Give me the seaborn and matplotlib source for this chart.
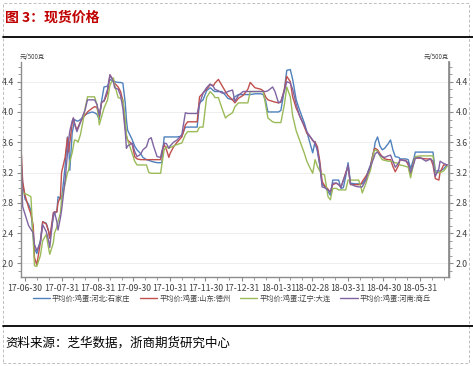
import pandas as pd
import seaborn as sns
import matplotlib.pyplot as plt
import matplotlib.dates as mdates
from matplotlib.ticker import MultipleLocator, FormatStrFormatter
from matplotlib.lines import Line2D
from matplotlib.patches import Rectangle

dates = ["2017-06-27","2017-06-28","2017-06-30","2017-07-03","2017-07-05","2017-07-07","2017-07-08","2017-07-10","2017-07-13","2017-07-15",
         "2017-07-18","2017-07-20","2017-07-21","2017-07-24","2017-07-25","2017-07-27","2017-07-28","2017-07-30","2017-07-31","2017-08-03",
         "2017-08-05","2017-08-06","2017-08-07","2017-08-09","2017-08-10","2017-08-11","2017-08-13","2017-08-14","2017-08-16","2017-08-18",
         "2017-08-20","2017-08-22","2017-08-26","2017-08-28","2017-08-30","2017-09-01","2017-09-03","2017-09-05","2017-09-08","2017-09-10",
         "2017-09-13","2017-09-14","2017-09-17","2017-09-19","2017-09-21","2017-09-23","2017-09-24","2017-09-25","2017-09-29","2017-10-01",
         "2017-10-03","2017-10-06","2017-10-08","2017-10-11","2017-10-13","2017-10-15","2017-10-17","2017-10-20","2017-10-23","2017-10-24",
         "2017-10-26","2017-10-28","2017-10-30","2017-10-31","2017-11-03","2017-11-06","2017-11-10","2017-11-13","2017-11-15","2017-11-19",
         "2017-11-23","2017-11-25","2017-11-28","2017-12-01","2017-12-04","2017-12-07","2017-12-08","2017-12-11","2017-12-14","2017-12-17",
         "2017-12-19","2017-12-23","2017-12-25","2017-12-28","2018-01-01","2018-01-05","2018-01-07","2018-01-11","2018-01-16","2018-01-18",
         "2018-01-20","2018-01-22","2018-01-26","2018-01-28","2018-01-31","2018-02-02","2018-02-05","2018-02-07","2018-02-10","2018-02-12",
         "2018-02-15","2018-02-18","2018-02-22","2018-02-24","2018-02-27","2018-03-01","2018-03-03","2018-03-05","2018-03-07","2018-03-09",
         "2018-03-11","2018-03-14","2018-03-16","2018-03-18","2018-03-21","2018-03-23","2018-03-25","2018-03-27","2018-03-29","2018-03-31",
         "2018-04-02","2018-04-06","2018-04-09","2018-04-11","2018-04-12","2018-04-15","2018-04-17","2018-04-19","2018-04-22","2018-04-23",
         "2018-04-25","2018-04-27","2018-04-29","2018-05-01","2018-05-04","2018-05-06","2018-05-08","2018-05-10","2018-05-13","2018-05-14",
         "2018-05-17","2018-05-19","2018-05-21","2018-05-23","2018-05-26","2018-05-27","2018-05-31","2018-06-05","2018-06-09","2018-06-11",
         "2018-06-13","2018-06-16","2018-06-17","2018-06-20","2018-06-23"]

hebei = [3.30,3.06,2.85,2.78,2.70,2.35,2.20,2.13,2.30,2.55,
         2.53,2.43,2.33,2.61,2.66,2.68,2.88,2.86,2.84,3.28,
         3.67,3.60,3.23,3.72,3.80,3.90,3.88,3.88,3.90,3.93,
         3.96,3.98,4.00,3.99,3.97,3.90,4.15,4.33,4.34,4.43,
         4.40,4.40,4.39,4.39,4.38,4.12,3.90,3.76,3.63,3.55,
         3.50,3.45,3.40,3.37,3.36,3.35,3.34,3.33,3.33,3.33,
         3.67,3.67,3.67,3.67,3.67,3.67,3.68,3.80,3.80,3.80,
         3.80,4.12,4.16,4.28,4.32,4.28,4.27,4.27,4.27,4.22,
         4.18,4.16,4.20,4.23,4.23,4.23,4.23,4.24,4.24,4.23,
         4.15,4.00,4.00,4.00,4.00,4.02,4.30,4.55,4.56,4.43,
         4.16,4.02,3.85,3.74,3.58,3.46,3.61,3.48,3.30,3.04,
         3.02,2.95,2.90,3.10,3.10,3.10,2.99,3.00,3.15,3.33,
         3.06,3.05,3.05,3.05,3.05,3.12,3.22,3.30,3.50,3.60,
         3.67,3.55,3.50,3.52,3.58,3.63,3.50,3.41,3.40,3.38,
         3.38,3.38,3.37,3.25,3.40,3.47,3.47,3.47,3.47,3.47,
         3.22,3.22,3.22,3.25,3.30]

shandong = [3.43,3.08,2.90,2.74,2.65,2.50,2.08,1.98,2.27,2.55,
            2.52,2.42,2.33,2.67,2.68,2.68,2.80,2.88,3.20,3.40,
            3.66,3.47,3.60,3.85,3.92,3.85,3.76,3.80,3.87,3.92,
            3.96,4.00,4.05,4.07,4.06,3.94,4.13,4.14,4.25,4.49,
            4.42,4.38,4.33,4.27,4.15,3.80,3.68,3.63,3.57,3.41,
            3.38,3.37,3.37,3.37,3.37,3.37,3.37,3.37,3.37,3.45,
            3.57,3.50,3.40,3.45,3.54,3.60,3.67,3.83,3.87,3.87,
            3.87,4.20,4.25,4.30,4.36,4.35,4.38,4.43,4.35,4.27,
            4.22,4.16,4.12,4.18,4.22,4.30,4.39,4.32,4.30,4.28,
            4.20,4.16,4.14,4.13,4.12,4.13,4.30,4.47,4.40,4.20,
            4.05,3.95,3.80,3.72,3.67,3.62,3.60,3.54,3.35,3.08,
            3.03,2.98,2.94,3.04,3.06,3.04,3.01,3.10,3.20,3.28,
            3.04,3.04,3.04,3.05,3.08,3.15,3.20,3.28,3.50,3.52,
            3.50,3.45,3.41,3.38,3.37,3.37,3.28,3.21,3.30,3.37,
            3.36,3.36,3.30,3.17,3.37,3.39,3.39,3.38,3.38,3.30,
            3.12,3.10,3.20,3.30,3.30]

liaoning = [3.05,2.93,2.92,2.90,2.88,2.30,1.97,1.96,2.10,2.30,
            2.38,2.20,2.12,2.27,2.40,2.48,2.55,2.66,2.85,3.05,
            3.20,3.23,3.35,3.46,3.55,3.63,3.62,3.60,3.70,3.86,
            4.05,4.20,4.20,4.20,4.10,3.83,3.94,4.05,4.16,4.35,
            4.45,4.36,4.19,4.18,4.16,3.90,3.70,3.63,3.45,3.35,
            3.30,3.30,3.30,3.30,3.20,3.19,3.19,3.19,3.19,3.30,
            3.50,3.54,3.52,3.53,3.55,3.57,3.59,3.70,3.74,3.74,
            3.74,3.80,3.80,4.19,4.27,4.22,4.19,4.19,4.05,3.92,
            3.95,3.99,4.07,4.12,4.12,4.12,4.27,4.27,4.27,4.27,
            4.10,3.92,3.87,3.86,3.86,3.86,4.10,4.33,4.20,3.95,
            3.75,3.62,3.45,3.35,3.25,3.19,3.37,3.28,3.22,3.18,
            3.17,2.88,2.84,2.99,2.99,2.97,2.97,2.97,2.97,3.10,
            3.10,3.10,3.10,3.00,2.93,3.05,3.15,3.23,3.48,3.50,
            3.48,3.42,3.37,3.36,3.35,3.35,3.34,3.33,3.32,3.30,
            3.29,3.28,3.27,3.13,3.35,3.41,3.42,3.42,3.42,3.42,
            3.20,3.20,3.20,3.22,3.28]

henan = [3.25,2.75,2.65,2.50,2.45,2.40,2.25,2.17,2.27,2.51,
         2.42,2.30,2.21,2.64,2.68,2.55,2.44,2.60,2.70,3.10,
         3.45,3.63,3.75,3.88,3.92,3.85,3.74,3.78,3.86,3.95,
         4.03,4.16,4.16,4.16,4.10,3.96,4.13,4.15,4.30,4.49,
         4.40,4.32,4.30,4.22,4.05,3.74,3.52,3.55,3.59,3.48,
         3.41,3.44,3.50,3.54,3.64,3.66,3.55,3.41,3.40,3.48,
         3.59,3.58,3.52,3.55,3.60,3.63,3.70,3.99,3.98,3.98,
         3.98,4.10,4.25,4.32,4.37,4.33,4.30,4.28,4.25,4.25,
         4.27,4.29,4.14,4.22,4.27,4.27,4.27,4.27,4.27,4.27,
         4.27,4.28,4.33,4.27,4.12,4.14,4.28,4.40,4.38,4.30,
         4.10,3.94,3.82,3.74,3.67,3.63,3.58,3.50,3.30,3.01,
         3.00,2.97,2.94,3.06,3.06,3.04,3.00,3.10,3.18,3.30,
         3.05,3.02,3.01,3.01,3.01,3.10,3.20,3.28,3.40,3.45,
         3.47,3.43,3.41,3.40,3.42,3.43,3.35,3.27,3.33,3.37,
         3.36,3.35,3.33,3.20,3.33,3.39,3.40,3.35,3.38,3.35,
         3.15,3.25,3.35,3.32,3.30]

names = ["平均价:鸡蛋:河北:石家庄", "平均价:鸡蛋:山东:德州",
         "平均价:鸡蛋:辽宁:大连", "平均价:鸡蛋:河南:商丘"]
colors = ["#4F81BD", "#C0504D", "#9BBB59", "#8064A2"]
month_ticks = ["2017-06-30", "2017-07-31", "2017-08-31", "2017-09-30", "2017-10-31", "2017-11-30",
               "2017-12-31", "2018-01-31", "2018-02-28", "2018-03-31", "2018-04-30", "2018-05-31"]

sns.set_theme(style="white")
plt.rcParams['font.family'] = ['Noto Sans CJK SC', 'DejaVu Sans']

wide = pd.DataFrame({"date": pd.to_datetime(dates), names[0]: hebei, names[1]: shandong,
                     names[2]: liaoning, names[3]: henan})
df = wide.melt(id_vars="date", var_name="series", value_name="price")

fig = plt.figure(figsize=(4.73, 3.66), dpi=100)
ax = fig.add_axes([0.0444, 0.2432, 0.9049, 0.5874])

sns.lineplot(data=df, x="date", y="price", hue="series", hue_order=names,
             palette=colors, linewidth=1.0, ax=ax, legend=False)

start = mdates.date2num(pd.Timestamp("2017-06-30"))
ax.set_xlim(start - 3.4, start + 359.6)
ax.set_ylim(1.82, 4.66)
ax.set_xlabel("")
ax.set_ylabel("")

ax.set_xticks(pd.to_datetime(month_ticks))
ax.xaxis.set_major_formatter(mdates.DateFormatter("%y-%m-%d"))
ax.xaxis.set_minor_locator(mdates.DayLocator(bymonthday=[10, 20]))
ax.yaxis.set_minor_locator(MultipleLocator(0.1))
ax.yaxis.set_major_formatter(FormatStrFormatter("%.1f"))
ax.set_yticks([2.0, 2.4, 2.8, 3.2, 3.6, 4.0, 4.4])
ax.grid(axis="y", color="#EBEBEB", linewidth=0.6)
ax.set_axisbelow(True)

grey = "#8C8C8C"
for side in ["left", "bottom", "right"]:
    ax.spines[side].set_color(grey)
    ax.spines[side].set_linewidth(1.0)
ax.spines["top"].set_visible(False)
ax.tick_params(axis="both", which="major", direction="out", length=3, width=0.8,
               color=grey, labelsize=6.3, labelcolor="#404040", pad=2)
ax.tick_params(axis="both", which="minor", direction="out", length=2, width=0.6, color=grey)
ax.tick_params(axis="y", left=True, which="both")
ax.tick_params(axis="x", bottom=True, which="both")

ax2 = ax.twinx()
ax2.set_ylim(ax.get_ylim())
ax2.set_yticks([2.0, 2.4, 2.8, 3.2, 3.6, 4.0, 4.4])
ax2.yaxis.set_minor_locator(MultipleLocator(0.1))
ax2.yaxis.set_major_formatter(FormatStrFormatter("%.1f"))
for side in ["left", "bottom", "top"]:
    ax2.spines[side].set_visible(False)
ax2.spines["right"].set_color(grey)
ax2.tick_params(axis="y", which="major", direction="out", length=3, width=0.8,
                color=grey, labelsize=6.3, labelcolor="#404040", pad=2, right=True)
ax2.tick_params(axis="y", which="minor", direction="out", length=2, width=0.6, color=grey, right=True)

fig.text(20 / 473, 1 - 57 / 366, "元/500克", fontsize=4.5, color="#404040", va="center", ha="left")
fig.text(449 / 473, 1 - 57 / 366, "元/500克", fontsize=4.5, color="#404040", va="center", ha="right")

handles = [Line2D([0], [0], color=c, lw=1.0) for c in colors]
fig.legend(handles, names, loc="center", bbox_to_anchor=(0.49, 1 - 299 / 366), ncol=4,
           frameon=False, fontsize=5.2, handlelength=2.4, handletextpad=0.3, columnspacing=1.3,
           labelcolor="#404040")

fig.text(5 / 473, 1 - 18 / 366, "图 3：现货价格", fontsize=10, fontweight="bold",
         color="#C00000", va="center", ha="left")
fig.add_artist(Line2D([3 / 473, 1.0], [1 - 37 / 366, 1 - 37 / 366], color="black", lw=1.3))
fig.add_artist(Line2D([3 / 473, 1.0], [1 - 326 / 366, 1 - 326 / 366], color="black", lw=1.3))
fig.text(5 / 473, 1 - 343 / 366, "资料来源：芝华数据，浙商期货研究中心", fontsize=9,
         color="black", va="center", ha="left")
fig.add_artist(Rectangle((3 / 473, 3 / 366), 466 / 473, 360 / 366, fill=False,
                         edgecolor="#BFBFBF", lw=0.7, linestyle=(0, (3, 2))))

fig.savefig("out.png", dpi=100)
